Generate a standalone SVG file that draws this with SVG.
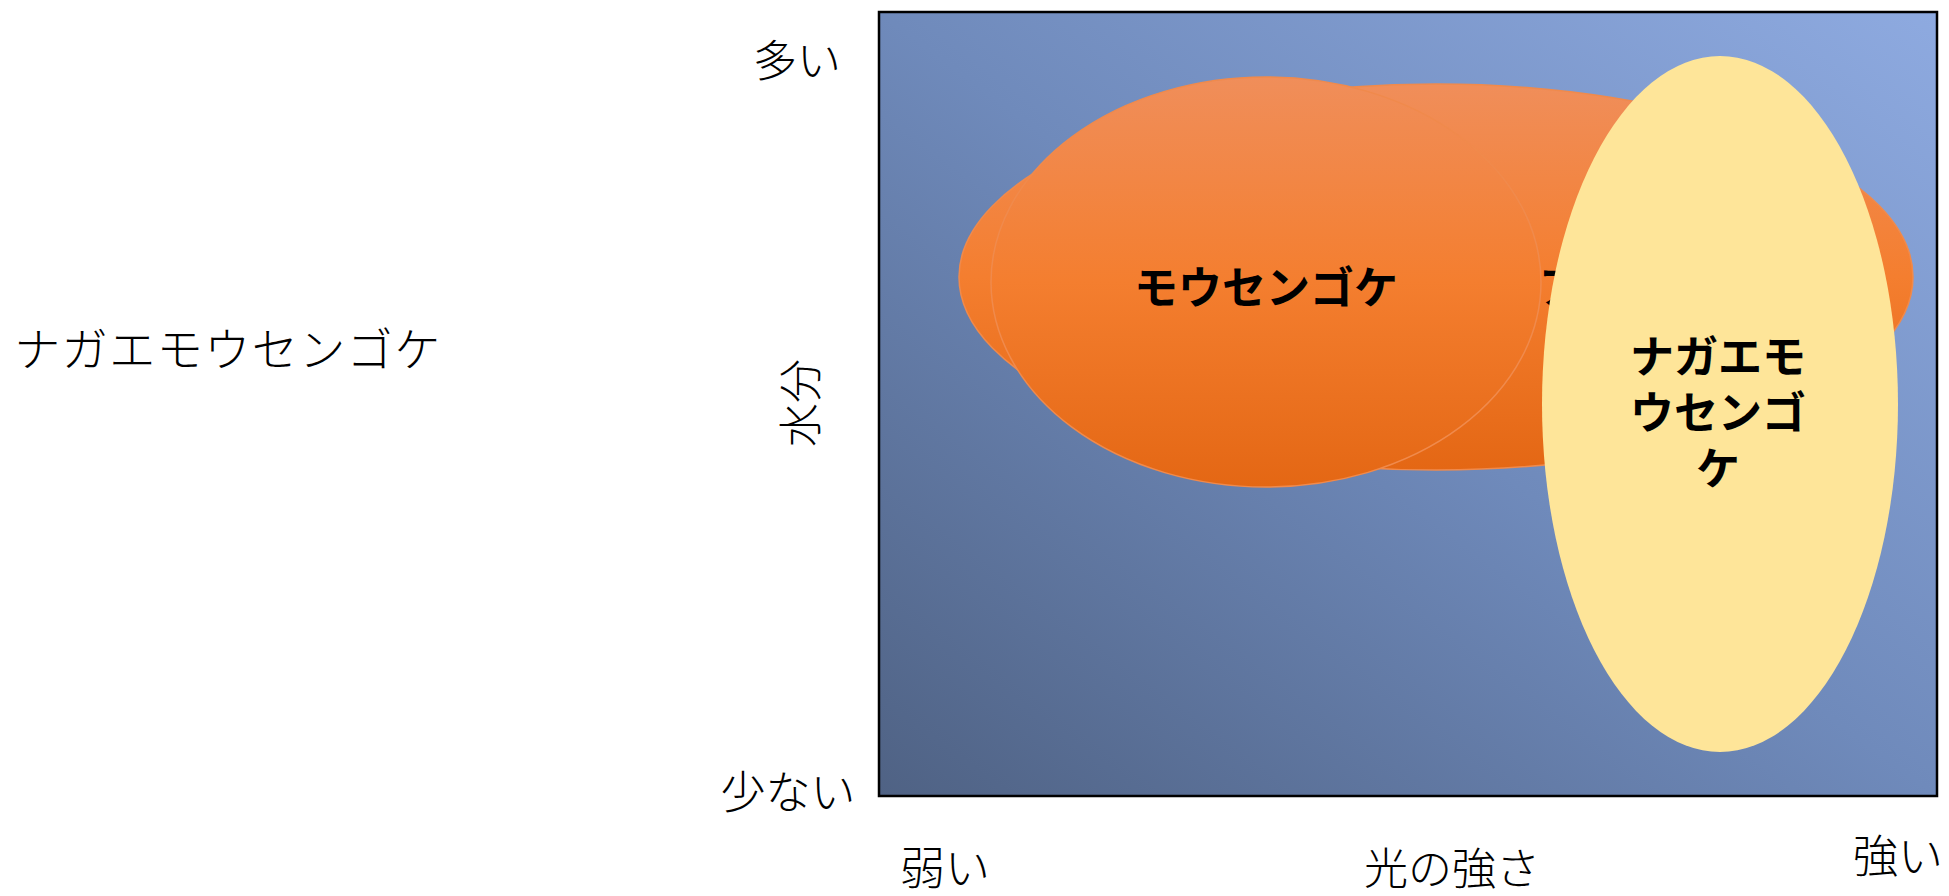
<svg xmlns="http://www.w3.org/2000/svg" width="1949" height="896" viewBox="0 0 1949 896">
  <defs>
    <linearGradient id="bg" x1="0" y1="1" x2="1" y2="0">
      <stop offset="0" stop-color="#4f6284"/>
      <stop offset="0.5" stop-color="#6f8abb"/>
      <stop offset="1" stop-color="#8eaae0"/>
    </linearGradient>
    <linearGradient id="orange" x1="0" y1="0" x2="0" y2="1">
      <stop offset="0" stop-color="#f08e5a"/>
      <stop offset="0.5" stop-color="#f47e2f"/>
      <stop offset="1" stop-color="#e46714"/>
    </linearGradient>
    <style>
      .lbl { font-family: "Noto Sans CJK JP", "Noto Sans CJK SC", sans-serif; font-weight: 300; fill: #000; dominant-baseline: central; text-anchor: middle; }
      .bold { font-family: "Noto Sans CJK JP", "Noto Sans CJK SC", sans-serif; font-weight: 700; font-size: 44px; fill: #000; dominant-baseline: central; text-anchor: middle; }
      .orange { fill: url(#orange); stroke: #f08a4c; stroke-width: 1.5; }
    </style>
  </defs>
  <rect width="1949" height="896" fill="#ffffff"/>

  <g id="plot">
    <rect x="879" y="12" width="1058" height="784" fill="url(#bg)" stroke="#000" stroke-width="2.5"/>
  </g>

  <g id="node-back">
    <ellipse class="orange" cx="1436" cy="277" rx="477" ry="193"/>
    <text class="bold" x="1539" y="285" style="text-anchor:start">ア</text>
  </g>

  <g id="node-mousengoke">
    <ellipse class="orange" cx="1266" cy="282" rx="275" ry="205"/>
    <text class="bold" x="1266" y="285">モウセンゴケ</text>
  </g>

  <g id="node-nagae">
    <ellipse cx="1720" cy="404" rx="178" ry="348" fill="#fee599"/>
    <text class="bold" x="1718" y="354">ナガエモ<tspan x="1718" dy="56">ウセンゴ</tspan><tspan x="1718" dy="56">ケ</tspan></text>
  </g>

  <g id="connectors"></g>

  <g id="labels">
    <text class="lbl" x="228" y="346" font-size="46" letter-spacing="1.5">ナガエモウセンゴケ</text>
    <text class="lbl" x="797" y="58" font-size="44">多い</text>
    <text class="lbl" x="788" y="789" font-size="45">少ない</text>
    <text class="lbl" x="798" y="403" font-size="44" transform="rotate(-90 798 403)">水分</text>
    <text class="lbl" x="945" y="865" font-size="45">弱い</text>
    <text class="lbl" x="1452" y="866" font-size="44">光の強さ</text>
    <text class="lbl" x="1898" y="853" font-size="45">強い</text>
  </g>
</svg>
